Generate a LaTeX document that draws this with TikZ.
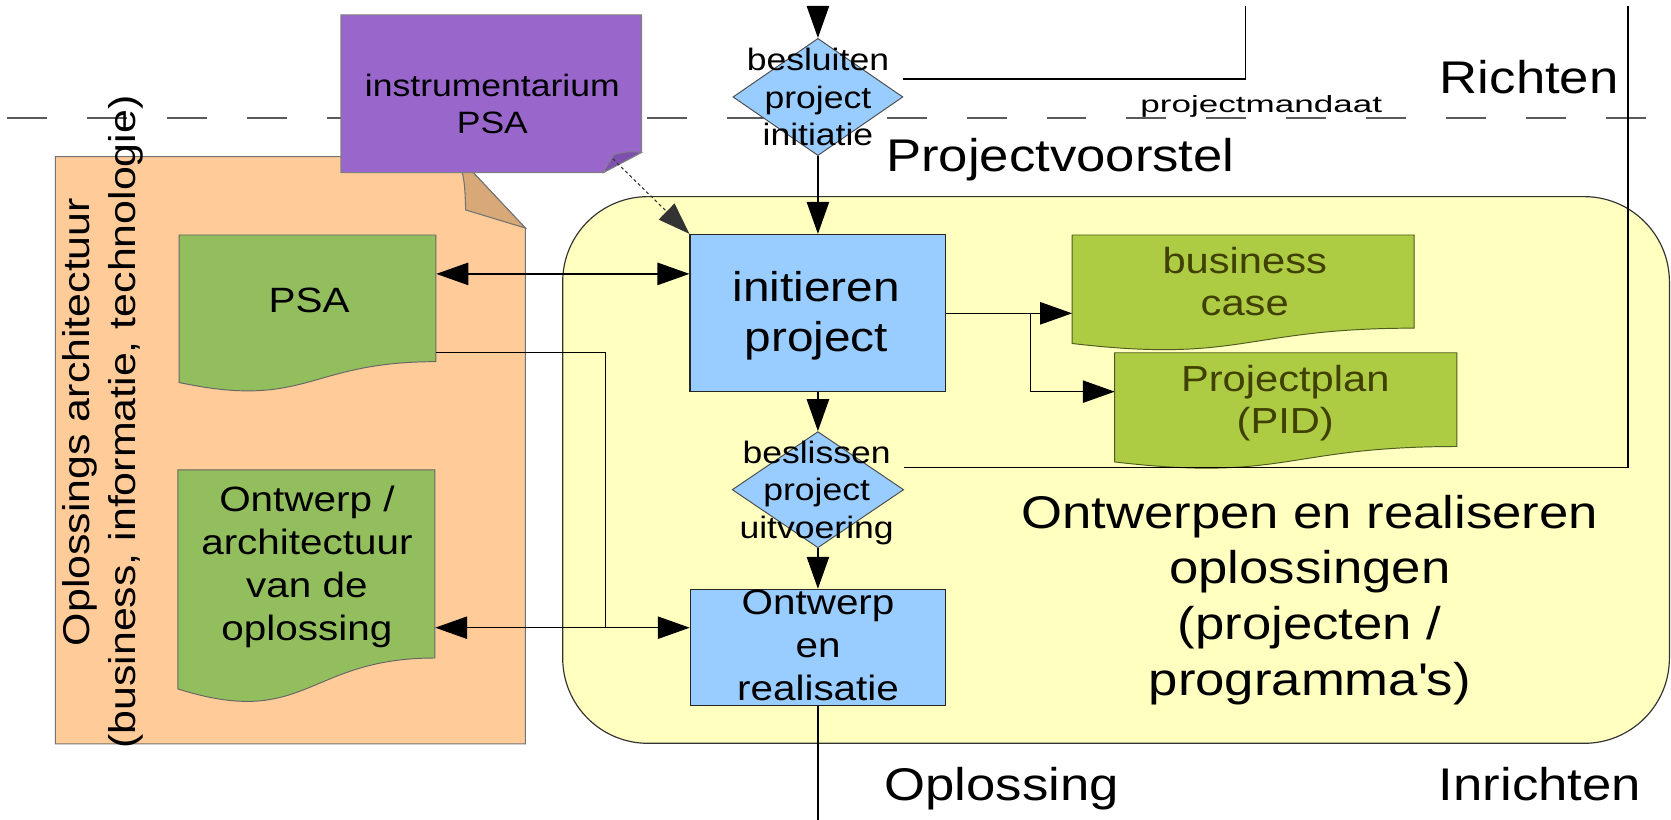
\documentclass[tikz,border=0pt]{standalone}
\usepackage{fontspec}
\setmainfont{Liberation Sans}[FakeStretch=1.15]
\usetikzlibrary{arrows.meta,shapes.geometric,calc}
\definecolor{orangefill}{RGB}{255,204,153}
\definecolor{orangefold}{RGB}{217,168,120}
\definecolor{purplefill}{RGB}{153,102,204}
\definecolor{purplefold}{RGB}{125,80,175}
\definecolor{bluefill}{RGB}{153,204,255}
\definecolor{yellowfill}{RGB}{255,255,192}
\definecolor{greenA}{RGB}{147,190,93}
\definecolor{greenB}{RGB}{173,204,68}
\definecolor{olivetext}{RGB}{64,64,0}
\definecolor{dashgray}{RGB}{90,90,90}
\newcommand{\fszX}{\fontsize{43}{52.5}\selectfont}
\newcommand{\fszL}{\fontsize{39}{47}\selectfont}
\newcommand{\fszM}{\fontsize{33}{40.5}\selectfont}
\newcommand{\fszB}{\fontsize{34}{40}\selectfont}
\newcommand{\fszS}{\fontsize{29}{35}\selectfont}
\newcommand{\fszRot}{\fontsize{35}{43}\selectfont}
% #1 name, #2 x, #3 y, #4 w, #5 h, #6 style
\newcommand{\mydocshape}[6]{%
  \path[#6] (#2,#3) -- (#2+#4,#3) -- (#2+#4,#3+0.802*#5)
    .. controls (#2+0.5*#4,#3+0.802*#5) and (#2+0.5*#4,#3+1.107*#5) .. (#2,#3+0.934*#5) -- cycle;
  \node[inner sep=0pt, minimum width=#4pt, minimum height=#5pt, anchor=north west] (#1) at (#2,#3) {};}
\begin{document}
\begin{tikzpicture}[x=1pt,y=-1pt,
  conn/.style={draw=black, line width=1.2pt},
  arr/.style={conn, -{Triangle[length=30pt,width=21pt]}},
  darr/.style={conn, {Triangle[length=30pt,width=21pt]}-{Triangle[length=30pt,width=21pt]}},
  dotarr/.style={draw=black!80, line width=1pt, dash pattern=on 3pt off 2.5pt, -{Triangle[length=30pt,width=21pt]}},
  bluebox/.style={draw=black!85, line width=1.1pt, fill=bluefill, inner sep=0pt},
  decbox/.style={diamond, draw=black!70, line width=0.9pt, fill=bluefill, inner sep=0pt},
  txt/.style={inner sep=0pt, align=center},
  greendocA/.style={fill=greenA, draw=black!60, line width=0.9pt},
  greendocB/.style={fill=greenB, draw=black!55!greenB, line width=0.9pt},
]
\useasboundingbox (0,0) rectangle (1568,769);

% dashed separator
\draw[dashgray, line width=1.6pt, dash pattern=on 37.5pt off 37.5pt] (7,110.5) -- (1545,110.5);

% orange architecture document
\path[fill=orangefill, draw=black!55, line width=1pt] (52,147) -- (430,147) -- (493,214) -- (493,698) -- (52,698) -- cycle;
\path[fill=orangefold, draw=black!55, line width=1pt] (430,147) .. controls (436,170) .. (437,197) -- (493,214) -- cycle;
\node[inner sep=0pt, minimum width=441pt, minimum height=551pt] (arch) at (272.5,422.5) {};
\node[txt, rotate=90, font=\fszRot] (archtxt) at (96.9,396) {Oplossings architectuur\\(business, informatie, technologie)};

% yellow area
\node[draw=black!80, line width=1.1pt, fill=yellowfill, rounded corners=80pt, minimum width=1038.5pt, minimum height=513pt, inner sep=0pt] (yel) at (1047.25,441) {};

% purple document
\path[fill=purplefill, draw=black!50, line width=1pt] (320,14) -- (602,14) -- (602,143) -- (566,162) -- (320,162) -- cycle;
\path[fill=purplefold, draw=black!50, line width=0.8pt] (602,143) .. controls (590,142) .. (576,145) .. controls (572,152) .. (566,162) -- cycle;
\node[inner sep=0pt, minimum width=282pt, minimum height=148pt] (instr) at (461,88) {};
\node[txt, font=\fszS] (instrtxt) at (462,97.4) {instrumentarium\\PSA};
\coordinate (flap) at (575,149);

% green documents
\mydocshape{psa}{168}{220.5}{241}{148.2}{greendocA}
\node[font=\fszM, anchor=base] (psatxt) at (290,293) {PSA};
\mydocshape{ontdoc}{167}{441}{241}{220}{greendocA}
\node[txt, font=\fszM] (onttxt) at (288,531.9) {Ontwerp /\\architectuur\\van de\\oplossing};
\mydocshape{bc}{1006}{220.5}{321}{109}{greendocB}
\node[txt, font=\fszB, text=olivetext] (bctxt) at (1168,264.3) {business\\case};
\mydocshape{pp}{1046}{331}{321}{109.7}{greendocB}
\node[txt, font=\fszB, text=olivetext] (pptxt) at (1206,378.4) {Projectplan\\(PID)};

% process boxes and decisions
\node[bluebox, minimum width=240pt, minimum height=147pt] (init) at (767.5,293.5) {};
\node[txt, font=\fszL] (inittxt) at (766,296.6) {initieren\\project};
\node[decbox, minimum width=159.5pt, minimum height=110pt] (d1) at (767.5,91) {};
\node[txt, font=\fszS] (d1txt) at (767.5,91.1) {besluiten\\project\\initiatie};
\node[decbox, minimum width=161pt, minimum height=109pt] (d2) at (767.5,459.5) {};
\node[txt, font=\fszS] (d2txt) at (766.3,462.4) {beslissen\\project\\uitvoering};
\node[bluebox, minimum width=239.5pt, minimum height=109pt] (oer) at (767.5,607.5) {};
\node[txt, font=\fszM] (oertxt) at (767.6,605.8) {Ontwerp\\en\\realisatie};

% connectors
\coordinate (topstart) at (767.5,6);
\draw[arr] (topstart) -- (d1.north);
\draw[arr] (d1.south) -- (init.north);
\draw[arr] (init.south) -- (d2.north);
\draw[arr] (d2.south) -- (oer.north);
\coordinate (botend) at (767.5,769);
\draw[conn] (oer.south) -- (botend);
\coordinate (topA) at (1168.5,6);
\draw[conn] (d1.east |- 0,74) -| (topA);
\coordinate (topB) at (1527.5,6);
\draw[conn] (d2.east |- 0,439) -| (topB);
\draw[dotarr] (flap) -- (init.north west);
\draw[darr] (psa.east |- 0,257) -- (init.west |- 0,257);
\coordinate (join) at (568,589);
\draw[conn] (psa.east |- 0,331) -| (join);
\draw[darr] (ontdoc.east |- 0,589) -- (oer.west |- 0,589);
\coordinate (branch) at (967,294);
\draw[arr] (init.east |- 0,294) -- (bc.west |- 0,294);
\draw[arr] (branch) |- (pp.west |- 0,367.5);

% labels
\node[anchor=base, font=\fszX] (richten) at (1435,87.5) {Richten};
\node[anchor=base, font=\fszX] (pvoorstel) at (995,161) {Projectvoorstel};
\node[anchor=base, font=\fszX] (oplossing) at (940,751) {Oplossing};
\node[anchor=base, font=\fszX] (inrichten) at (1445,751) {Inrichten};
\node[anchor=base, inner sep=0pt] (mandaat) at (1183.5,106) {\scalebox{1.3}[1]{\fontsize{22}{26}\selectfont projectmandaat}};
\node[txt, font=\fszX] (ontwerpen) at (1229,563.1) {Ontwerpen en realiseren\\oplossingen\\(projecten /\\programma\textquotesingle s)};
\end{tikzpicture}
\end{document}
